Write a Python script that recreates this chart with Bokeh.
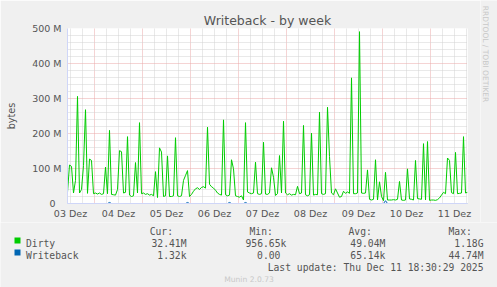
import math
from bokeh.plotting import figure
from bokeh.layouts import column, row
from bokeh.models import Range1d, FixedTicker, ColumnDataSource
from bokeh.core.properties import value
from bokeh.embed import file_html
from bokeh.resources import INLINE

# ---------------- data ----------------
# hourly samples, hours counted from 03 Dez 00:00, first sample 03 Dez 10:30
start_hour = 10.5
dirty_m = [
    32, 110, 106, 30, 66, 306, 30, 40, 108, 268,
    29, 127, 123, 28, 30, 27, 30, 26, 28, 104,
    28, 209, 26, 25, 24, 40, 151, 148, 30, 32,
    191, 24, 20, 22, 117, 30, 231, 28, 30, 26,
    28, 24, 26, 22, 91, 17, 159, 147, 20, 22,
    136, 20, 20, 22, 188, 22, 20, 22, 66, 80,
    94, 20, 26, 35, 42, 45, 40, 46, 48, 44,
    218, 55, 48, 44, 38, 30, 26, 24, 239, 25,
    22, 24, 125, 99, 22, 20, 18, 22, 10, 231,
    33, 30, 28, 30, 118, 28, 26, 28, 175, 27,
    26, 30, 102, 75, 23, 28, 137, 30, 235, 30,
    25, 28, 24, 26, 25, 49, 28, 30, 223, 25,
    22, 25, 201, 24, 26, 25, 261, 28, 26, 28,
    275, 134, 30, 25, 42, 30, 18, 20, 35, 29,
    33, 29, 359, 28, 28, 30, 491, 30, 29, 30,
    96, 12, 10, 12, 125, 10, 62, 20, 8, 89,
    10, 10, 10, 11, 10, 12, 63, 10, 9, 10,
    99, 13, 12, 10, 123, 14, 13, 12, 171, 10,
    177, 9, 10, 10, 9, 11, 16, 24, 32, 28,
    130, 123, 31, 28, 146, 28, 29, 30, 191, 30,
    32,
]
writeback_m = [0] * len(dirty_m)
for i, v in [(21, 3), (60, 3), (81, 3), (89, 3), (159, 8)]:
    writeback_m[i] = v

day_labels = ["03 Dez", "04 Dez", "05 Dez", "06 Dez", "07 Dez",
              "08 Dez", "09 Dez", "10 Dez", "11 Dez"]
y_ticks = [0, 100, 200, 300, 400, 500]
y_tick_labels = ["0\u00a0\u00a0", "100 M", "200 M", "300 M", "400 M", "500 M"]

legend_names = ["Dirty", "Writeback"]
legend_colors = ["#00cc00", "#0066b3"]
headers = ["Cur:", "Min:", "Avg:", "Max:"]
cur_vals = ["32.41M", "1.32k"]
min_vals = ["956.65k", "0.00"]
avg_vals = ["49.04M", "65.14k"]
max_vals = ["1.18G", "44.74M"]
last_update = "Last update: Thu Dec 11 18:30:29 2025"
watermark = "RRDTOOL / TOBI OETIKER"

# ---------------- main figure ----------------
W, H = 497, 287
HM = 222                      # height of the graph part
WM = 480                      # width of the graph part (watermark strip right of it)
FL, FT = 67, 28
FRIGHT = 467
FBOT = 203

BG = "#f0f0f0"
AX = "#cfd6f8"
FONT_C = "#555555"
SANS = "DejaVu Sans"
MONO = "DejaVu Sans Mono"

hours = [start_hour + i for i in range(len(dirty_m))]
src = ColumnDataSource(dict(x=hours, dirty=dirty_m, wb=writeback_m))

p = figure(width=WM, height=HM, output_backend="svg", toolbar_location=None,
           x_range=Range1d(start_hour, start_hour + 200),
           y_range=Range1d(0, 500),
           min_border_left=FL, min_border_right=WM - FRIGHT,
           min_border_top=FT, min_border_bottom=HM - FBOT)
p.border_fill_color = BG
p.background_fill_color = "#ffffff"
p.outline_line_color = None

p.title.text = "Writeback - by week"
p.title.align = "center"
p.title.offset = (W / 2) - (FL + FRIGHT) / 2
p.title.standoff = 1
p.title.text_font = SANS
p.title.text_font_size = "12.5px"
p.title.text_font_style = "normal"
p.title.text_color = FONT_C

noons = [12 + 24 * k for k in range(len(day_labels))]
midnights = [24 * k for k in range(1, 9)]
six_h = [h for h in range(12, 211, 6) if h % 24 != 0]

p.xaxis.ticker = FixedTicker(ticks=noons)
p.xaxis.major_label_overrides = {t: l for t, l in zip(noons, day_labels)}
p.yaxis.ticker = FixedTicker(ticks=y_ticks)
p.yaxis.major_label_overrides = {t: l for t, l in zip(y_ticks, y_tick_labels)}
for ax in (p.xaxis[0], p.yaxis[0]):
    ax.axis_line_color = AX
    ax.major_tick_line_color = None
    ax.minor_tick_line_color = None
    ax.major_tick_out = 0
    ax.major_tick_in = 0
    ax.minor_tick_out = 0
    ax.minor_tick_in = 0
    ax.major_label_text_font = SANS
    ax.major_label_text_font_size = "9.5px"
    ax.major_label_text_color = FONT_C
p.xaxis.major_label_standoff = 4
p.yaxis.major_label_standoff = 6
p.yaxis.axis_label = "bytes"
p.yaxis.axis_label_text_font = SANS
p.yaxis.axis_label_text_font_size = "9.7px"
p.yaxis.axis_label_text_font_style = "normal"
p.yaxis.axis_label_text_color = FONT_C
p.yaxis.axis_label_standoff = 12

MGRID = "#eaa8a8"
GRID = "#d2d2d2"
p.xgrid.ticker = FixedTicker(ticks=midnights, minor_ticks=six_h)
p.ygrid.ticker = FixedTicker(ticks=[100, 200, 300, 400, 500],
                             minor_ticks=[v for v in range(20, 500, 20) if v % 100 != 0])
for g in (p.xgrid[0], p.ygrid[0]):
    g.grid_line_color = MGRID
    g.grid_line_dash = "1 1"
    g.grid_line_width = 1
    g.minor_grid_line_color = GRID
    g.minor_grid_line_dash = "1 1"
    g.minor_grid_line_width = 1

p.line("x", "dirty", source=src, line_color=legend_colors[0], line_width=1)
p.line("x", "wb", source=src, line_color=legend_colors[1], line_width=1)


def pixel_fig(x0, x1, y0, y1):
    f = figure(width=x1 - x0, height=y1 - y0, output_backend="svg",
               toolbar_location=None,
               x_range=Range1d(x0, x1), y_range=Range1d(y1, y0),
               frame_width=x1 - x0, frame_height=y1 - y0,
               min_border_left=0, min_border_right=0, min_border_top=0,
               min_border_bottom=0)
    f.xaxis.visible = False
    f.yaxis.visible = False
    f.grid.visible = False
    f.outline_line_color = None
    f.border_fill_color = BG
    f.background_fill_color = BG
    return f


# ---------------- watermark strip ----------------
w = pixel_fig(WM, W, 0, HM)
w.text(x=[485], y=[53.5], text=[watermark], text_font=value(SANS),
       text_font_size=value("7.5px"), text_color="#c8c8c8", text_align="center",
       text_baseline="alphabetic", angle=-math.pi / 2)

# ---------------- legend part ----------------
q = pixel_fig(0, W, HM, H)
for fig in (p, q, w):
    if "frame_align" in fig.properties():
        fig.frame_align = False

row_base = [243, 254.5]
col_right = [186, 285.8, 384.8, 483]
hdr_right = [172.5, 272.3, 371.3, 471.3]

q.quad(left=[14, 14], right=[20, 20], top=[237, 249], bottom=[243, 255],
       fill_color=legend_colors, line_color=None)

q.text(x=[25.5, 25.5], y=row_base, text=legend_names, text_font=value(MONO),
       text_font_size=value("9.7px"), text_color=FONT_C, text_align="left",
       text_baseline="alphabetic")

rx, ry, rt = [], [], []
for r, h in zip(hdr_right, headers):
    rx.append(r); ry.append(231); rt.append(h)
for k in range(2):
    vals = [cur_vals[k], min_vals[k], avg_vals[k], max_vals[k]]
    for r, v in zip(col_right, vals):
        if v[-1].isdigit():
            r = r - 5.85
        rx.append(r); ry.append(row_base[k]); rt.append(v)
rx.append(483); ry.append(267); rt.append(last_update)
q.text(x=rx, y=ry, text=rt, text_font=value(MONO), text_font_size=value("9.7px"),
       text_color=FONT_C, text_align="right", text_baseline="alphabetic")

q.text(x=[248.5], y=[279], text=["Munin 2.0.73"], text_font=value(SANS),
       text_font_size=value("7.6px"), text_color="#c8c8c8", text_align="center",
       text_baseline="alphabetic")

layout = column(row(p, w, spacing=0), q, spacing=0)
open("out.html", "w").write(file_html(layout, INLINE))
